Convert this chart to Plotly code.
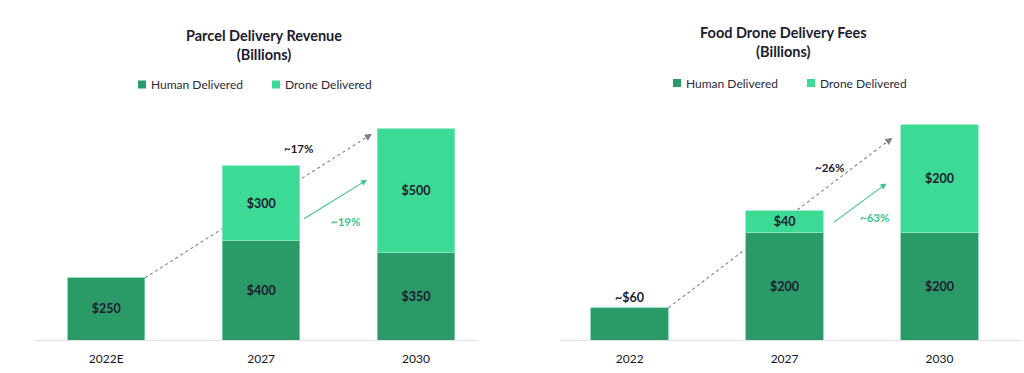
import plotly.graph_objects as go

# ---- data ----
left_categories = ["2022E", "2027", "2030"]
left_human = [250, 400, 350]
left_drone = [0, 300, 500]
left_human_labels = ["$250", "$400", "$350"]
left_drone_labels = ["", "$300", "$500"]

right_categories = ["2022", "2027", "2030"]
right_human = [60, 200, 200]
right_drone = [0, 40, 200]
right_human_labels = ["", "$200", "$200"]
right_drone_labels = ["", "$40", "$200"]

series_names = ["Human Delivered", "Drone Delivered"]
left_title = "Parcel Delivery Revenue<br>(Billions)"
right_title = "Food Drone Delivery Fees<br>(Billions)"
left_cagr_total = "~17%"
left_cagr_drone = "~19%"
right_cagr_total = "~26%"
right_cagr_drone = "~63%"
right_first_label = "~$60"

HUMAN = "#2b9a69"
DRONE = "#3cda95"
DARK = "#1c1c30"
FONT = "Lato"
W, H = 1024, 373

def px(x):
    return x / W

def py(y):
    return 1 - y / H

fig = go.Figure()

fig.add_trace(go.Bar(x=left_categories, y=left_human, name=series_names[0],
                     marker=dict(color=HUMAN, line=dict(color="#7fd3ad", width=0.8)),
                     text=left_human_labels, xaxis="x", yaxis="y"))
fig.add_trace(go.Bar(x=left_categories, y=left_drone, name=series_names[1],
                     marker=dict(color=DRONE, line=dict(color="#8fe9c0", width=0.8)),
                     text=left_drone_labels, xaxis="x", yaxis="y"))
fig.add_trace(go.Bar(x=right_categories, y=right_human, name=series_names[0],
                     marker=dict(color=HUMAN, line=dict(color="#7fd3ad", width=0.8)),
                     text=right_human_labels, xaxis="x2", yaxis="y2"))
fig.add_trace(go.Bar(x=right_categories, y=right_drone, name=series_names[1],
                     marker=dict(color=DRONE, line=dict(color="#8fe9c0", width=0.8)),
                     text=right_drone_labels, xaxis="x2", yaxis="y2"))

fig.update_traces(width=0.5, textposition="inside", insidetextanchor="middle",
                  textangle=0, constraintext="none", showlegend=False,
                  textfont=dict(family=FONT, size=12.5, color=DARK, weight="bold"),
                  hoverinfo="skip")

ydom = [py(340), py(100)]
axis_common = dict(showgrid=False, zeroline=False, ticks="", showline=True,
                   linecolor="#e0e0e4", linewidth=1, ticklabelstandoff=8,
                   tickfont=dict(family=FONT, size=12, color="#15152a", weight="normal"))
fig.update_layout(
    width=W, height=H,
    margin=dict(l=0, r=0, t=0, b=0),
    paper_bgcolor="white", plot_bgcolor="white",
    barmode="stack",
    font=dict(family=FONT, color=DARK),
    xaxis=dict(domain=[px(35), px(478)], range=[-0.46, 2.4], anchor="y", **axis_common),
    yaxis=dict(domain=ydom, range=[0, 965], visible=False, anchor="x"),
    xaxis2=dict(domain=[px(560), px(1020)], range=[-0.45, 2.52], anchor="y2", **axis_common),
    yaxis2=dict(domain=ydom, range=[0, 446], visible=False, anchor="x2"),
    showlegend=False,
)

# titles
fig.add_annotation(xref="paper", yref="paper", x=px(264), y=py(45.5), text="<b>" + left_title + "</b>",
                   showarrow=False, font=dict(family=FONT, size=14.5, color=DARK), align="center",
                   xanchor="center", yanchor="middle")
fig.add_annotation(xref="paper", yref="paper", x=px(783), y=py(42), text="<b>" + right_title + "</b>",
                   showarrow=False, font=dict(family=FONT, size=14.5, color=DARK), align="center",
                   xanchor="center", yanchor="middle")

# legends (swatch + label for each series)
def legend_item(sx, sy, color, label):
    fig.add_shape(type="rect", xref="paper", yref="paper",
                  x0=px(sx), x1=px(sx + 8), y0=py(sy + 4), y1=py(sy - 4),
                  fillcolor=color, line=dict(width=0))
    fig.add_annotation(xref="paper", yref="paper", x=px(sx + 11), y=py(sy), text=label,
                       showarrow=False, xanchor="left", yanchor="middle",
                       font=dict(family=FONT, size=12, color="#2a2a3a"))

legend_item(138, 84.5, HUMAN, series_names[0])
legend_item(272, 84.5, DRONE, series_names[1])
legend_item(673, 83, HUMAN, series_names[0])
legend_item(807, 83, DRONE, series_names[1])

GRAY = "#80808f"
GREEN = "#3cc489"

def growth(xr, yr, x0, y0, x1, y1, dirx, diry, gx0, gy0, gx1, gy1, lbl1, lpos1, lbl2, lpos2):
    # dotted total-growth line drawn beneath bars
    fig.add_shape(type="line", xref=xr, yref=yr, x0=x0, y0=y0, x1=x1, y1=y1,
                  line=dict(color=GRAY, width=1.1, dash="dot"), layer="below")
    fig.add_annotation(xref=xr, yref=yr, x=x1, y=y1, ax=-dirx * 6, ay=-diry * 6,
                       text="", showarrow=True, arrowhead=2, arrowsize=1.2, arrowwidth=1.2,
                       arrowcolor=GRAY)
    fig.add_annotation(xref=xr, yref=yr, x=gx1, y=gy1, axref=xr, ayref=yr, ax=gx0, ay=gy0,
                       text="", showarrow=True, arrowhead=2, arrowsize=1.1, arrowwidth=1.1,
                       arrowcolor=GREEN)
    fig.add_annotation(xref=xr, yref=yr, x=lpos1[0], y=lpos1[1], text="<b>" + lbl1 + "</b>",
                       showarrow=False, font=dict(family=FONT, size=11.5, color=DARK))
    fig.add_annotation(xref=xr, yref=yr, x=lpos2[0], y=lpos2[1], text="<b>" + lbl2 + "</b>",
                       showarrow=False, font=dict(family=FONT, size=11.5, color=GREEN))

growth("x", "y", 0.25, 250, 1.716, 829, 0.844, -0.535, 1.265, 483, 1.684, 644,
       left_cagr_total, (1.239, 772), left_cagr_drone, (1.542, 475))
growth("x2", "y2", 0.25, 60, 1.697, 376, 0.799, -0.602, 1.31, 217, 1.658, 291,
       right_cagr_total, (1.29, 320), right_cagr_drone, (1.58, 228))

fig.add_annotation(xref="x2", yref="y2", x=0, y=right_human[0], text="<b>" + right_first_label + "</b>",
                   showarrow=False, yanchor="bottom", yshift=1,
                   font=dict(family=FONT, size=12.5, color=DARK))

fig.write_html("out.html", config={"displayModeBar": False},
               post_script="document.body.style.margin='0px';")
